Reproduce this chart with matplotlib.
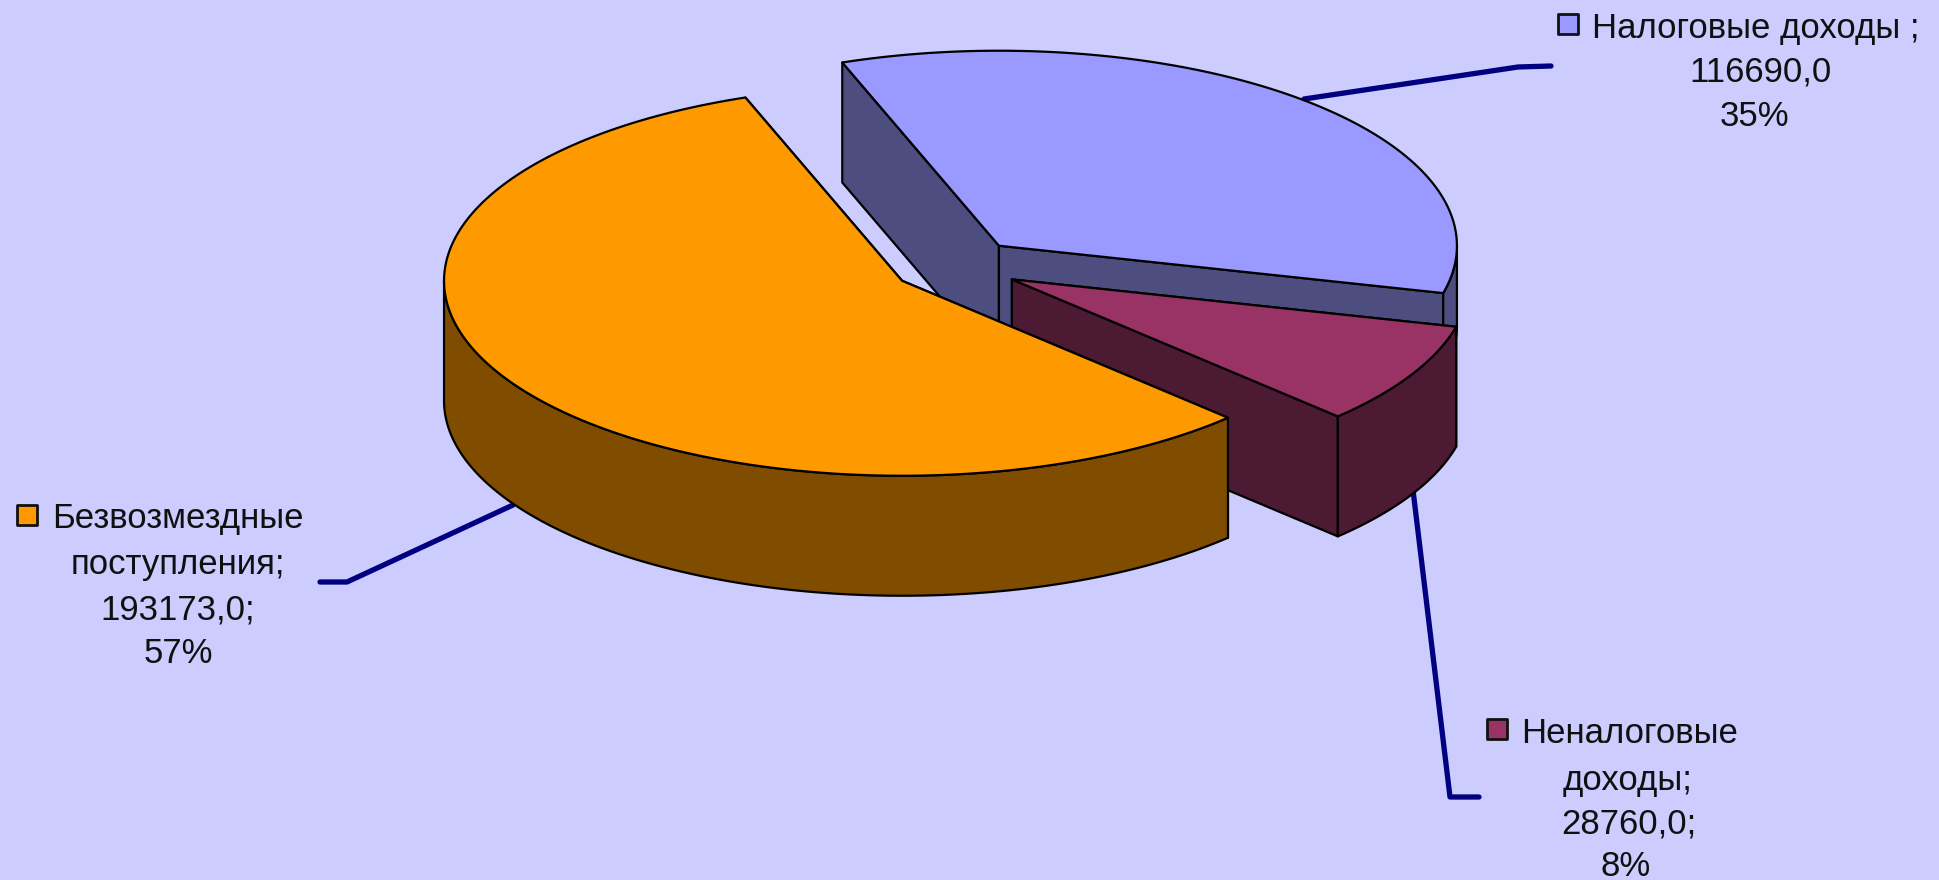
import numpy as np
import matplotlib
matplotlib.use('Agg')
import matplotlib.pyplot as plt
from matplotlib.patches import Polygon, Rectangle

plt.rcParams['font.family'] = ['Liberation Sans', 'DejaVu Sans']

# data
categories = ['Налоговые доходы', 'Неналоговые доходы', 'Безвозмездные поступления']
values = [116690.0, 28760.0, 193173.0]
percents = ['35%', '8%', '57%']

top_colors = ['#9999FF', '#993366', '#FF9900']
wall_colors = ['#4D4D80', '#4D1A33', '#804D00']
BG = '#CCCCFF'
LEADER = '#000080'

# pie geometry, in pixels of the figure
CX, CY = 956, 266
RX, RY = 458, 195
DEPTH = 120
EXPLODE = 0.14
START = 110.0
# the blue outer wall is hidden behind the purple slice lower down
front_depth = [80, 120, 120]

W, H = 1939, 880
fig = plt.figure(figsize=(W / 100, H / 100), dpi=100, facecolor=BG)
ax = fig.add_axes([0, 0, 1, 1])
ax.set_xlim(0, W)
ax.set_ylim(H, 0)
ax.axis('off')


def arc(center, t0, t1):
    t = np.radians(np.linspace(t0, t1, 200))
    return np.column_stack([center[0] + RX * np.cos(t), center[1] - RY * np.sin(t)])


def shape(pts, color, z):
    ax.add_patch(Polygon(pts, closed=True, facecolor=color, edgecolor='black',
                         linewidth=1.6, joinstyle='round', zorder=z))


# slices run clockwise from START
sweeps = 360.0 * np.array(values) / sum(values)
angle = START
slices = []
for sweep in sweeps:
    t0, t1 = angle, angle - sweep
    mid = np.radians((t0 + t1) / 2)
    center = (CX + EXPLODE * RX * np.cos(mid), CY - EXPLODE * RY * np.sin(mid))
    slices.append((center, t0, t1))
    angle = t1

z = 5
for (center, t0, t1), top, wall, fd in zip(slices, top_colors, wall_colors, front_depth):
    c = np.array(center)
    down = np.array([0, DEPTH])
    p0 = arc(center, t0, t0)[0]
    p1 = arc(center, t1, t1)[0]
    # radial walls
    shape([p0, c, c + down, p0 + down], wall, z)
    shape([c, p1, p1 + down, c + down], wall, z + 1)
    # outer wall, only the part facing the viewer
    if t1 < 0:
        front = arc(center, min(t0, 0), max(t1, -180))
        shape(np.vstack([front, front[::-1] + [0, fd]]), wall, z + 2)
    # top
    shape(np.vstack([c, arc(center, t0, t1)]), top, z + 3)
    z += 5

# leader lines
leader_x = [[1304, 1518, 1551], [1413, 1450, 1479], [513, 347, 320]]
leader_y = [[99, 67, 66], [490, 797, 797], [505, 582, 582]]
for xs, ys in zip(leader_x, leader_y):
    ax.plot(xs, ys, color=LEADER, lw=3.8, solid_capstyle='round', solid_joinstyle='round', zorder=3)

# labels, one text per line
label_lines = [
    ['Налоговые доходы ;', '116690,0', '35%'],
    ['Неналоговые', 'доходы;', '28760,0;', '8%'],
    ['Безвозмездные', 'поступления;', '193173,0;', '57%'],
]
label_x = [[1756, 1761, 1754], [1630, 1628, 1629, 1626], [178, 178, 178, 178]]
label_y = [[38, 82, 126], [743, 790, 833, 876], [528, 574, 619, 663]]
for lines, xs, ys in zip(label_lines, label_x, label_y):
    for s, x, y in zip(lines, xs, ys):
        ax.text(x, y, s, ha='center', va='baseline', fontsize=25, color='#101010', zorder=40)

# legend keys
key_x = [1558, 1487, 17]
key_y = [14, 719, 505]
for x, y, color in zip(key_x, key_y, top_colors):
    ax.add_patch(Rectangle((x, y), 20, 20, facecolor=color, edgecolor='#111111',
                           linewidth=2, joinstyle='round', zorder=40))

fig.savefig('out.png', dpi=100, facecolor=BG)
